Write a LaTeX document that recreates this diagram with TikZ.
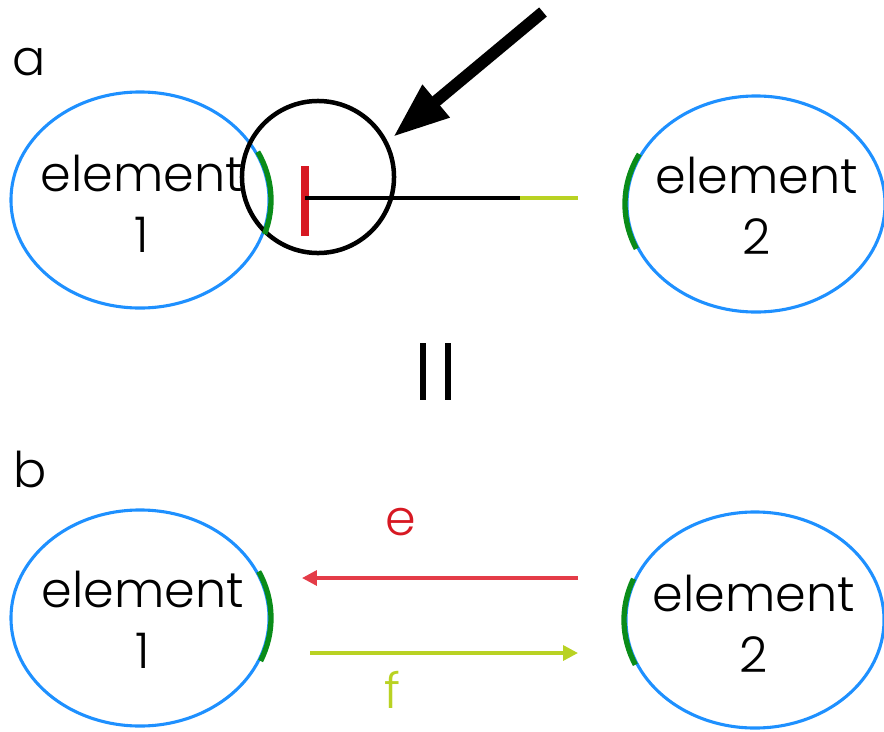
\documentclass[tikz,border=0pt]{standalone}
\usepackage{fontspec}
\setmainfont{Poppins Light}
\usetikzlibrary{positioning,arrows.meta,calc,shapes.geometric}

\definecolor{cellblue}{RGB}{30,144,255}
\definecolor{bindgreen}{RGB}{10,140,25}
\definecolor{inhred}{RGB}{215,25,35}
\definecolor{flowred}{RGB}{228,60,72}
\definecolor{fwdlime}{RGB}{185,210,35}

\begin{document}
\begin{tikzpicture}[x=0.025cm,y=-0.025cm,
  elem/.style={ellipse,draw=cellblue,line width=2.2pt,minimum width=6.45cm,minimum height=5.4cm,inner sep=0pt},
  lbl/.style={font=\fontsize{35}{43}\selectfont,align=center,inner sep=0pt},
  lens/.style={circle,draw,line width=3.2pt,minimum size=3.8cm,inner sep=0pt},
  site/.style={bindgreen,line width=3.8pt},
  flow/.style={line width=2.4pt,-{Triangle[length=10.5pt,width=10.5pt]}}]
\useasboundingbox (0,0) rectangle (884,732);
% panel a: element 1 blocks the signal coming from element 2
\node[lbl,anchor=base west] (pa) at (12,75) {a};
\node[elem] (e1a) at (140,200) {};
\node[elem] (e2a) at (756,204) {};
\node[lbl] (t1a) at ($(e1a)+(2,4)$) {element\\1};
\node[lbl] (t2a) at ($(e2a)+(1,2)$) {element\\2};
\node[lens] (zoom) at (318,177) {};
\coordinate (bar) at (305,198);
\coordinate (cut) at (520,198);
\coordinate (stub) at (578,198);
\draw[inhred,line width=5pt] ($(bar)+(0,-32)$) -- ($(bar)+(0,38)$);
\draw[line width=3.4pt] (bar) -- (cut);
\draw[fwdlime,line width=2.6pt] (cut) -- (stub);
% pointer onto the blocking end
\coordinate (ptr) at (543,12);
\coordinate (tip) at (393,137);
\draw[line width=8.5pt,-{Triangle[length=40pt,width=28pt]}] (ptr) -- (tip);
% equivalence sign
\foreach \bx in {423,448} {\draw[line width=4pt] (\bx,343) -- (\bx,400);}
% panel b: the same as two opposite flows
\node[lbl,anchor=base west] (pb) at (13,487) {b};
\node[elem] (e1b) at (140,618) {};
\node[elem] (e2b) at (755,620) {};
\node[lbl] (t1b) at ($(e1b)+(3,2)$) {element\\1};
\node[lbl] (t2b) at ($(e2b)+(-1,4)$) {element\\2};
\coordinate (eR) at (578,578);
\coordinate (eL) at (302,578);
\coordinate (fL) at (310,653);
\coordinate (fR) at (578,653);
\draw[flow,flowred] (eR) -- (eL);
\draw[flow,fwdlime] (fL) -- (fR);
\node[lbl,text=inhred,anchor=base] (le) at (401,535) {e};
\node[lbl,text=fwdlime,anchor=base] (lf) at (392,708) {f};
% green binding sites on the facing sides
\foreach \el/\a/\b in {e1a/-26/18,e2a/207/156,e1b/-25/23,e2b/202/156}
  {\draw[site] (\el.center) ++(\a:131 and 110) arc[start angle=\a,end angle=\b,x radius=131,y radius=110];}
\end{tikzpicture}
\end{document}
